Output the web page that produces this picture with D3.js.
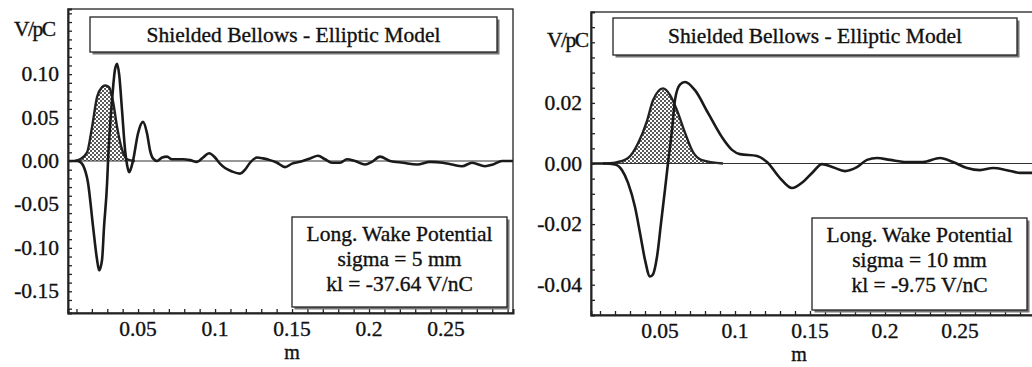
<!DOCTYPE html>
<html>
<head>
<meta charset="utf-8">
<script src="https://cdn.jsdelivr.net/npm/d3@7"></script>
<style>
  body { margin: 0; background: #fff; }
</style>
</head>
<body>
<div id="chart"></div>
<script>
// Shielded Bellows - Elliptic Model, longitudinal wake potential

const FONT = "Liberation Serif";

// Left panel (sigma = 5 mm): wake potential [m, V/pC]
const wake5 = [
  [0.0045, 0], [0.0104, 0], [0.0123, -0.001], [0.0143, -0.005], [0.0175, -0.025],
  [0.0208, -0.076], [0.0234, -0.114], [0.0247, -0.126], [0.0266, -0.114], [0.0279, -0.076],
  [0.0299, -0.025], [0.0305, 0], [0.0331, 0.07], [0.035, 0.105], [0.0364, 0.112],
  [0.0377, 0.10], [0.0396, 0.058], [0.0416, 0.012], [0.0429, -0.005], [0.0442, -0.013],
  [0.0455, -0.008], [0.0468, 0.001], [0.05, 0.032], [0.0532, 0.045], [0.0558, 0.032],
  [0.0578, 0.012], [0.0597, 0.003], [0.0623, 0], [0.0656, 0.004], [0.0688, 0.005],
  [0.072, 0.002], [0.0753, 0.002], [0.0792, 0.002], [0.0838, 0.001], [0.0883, -0.001],
  [0.0922, 0.004], [0.0961, 0.009], [0.1, 0.004], [0.1032, -0.003], [0.1065, -0.008],
  [0.111, -0.012], [0.1162, -0.0145], [0.1195, -0.01], [0.1227, -0.002], [0.1273, 0.004],
  [0.1312, 0.003], [0.1357, 0.001], [0.1403, -0.002], [0.1455, -0.007], [0.15, -0.003],
  [0.1552, -0.001], [0.1617, 0.003], [0.1669, 0.006], [0.1714, 0.002], [0.176, -0.002],
  [0.1812, -0.002], [0.1857, 0.002], [0.1909, 0.0], [0.1974, -0.004], [0.2019, -0.001],
  [0.2071, 0.005], [0.2136, 0.0], [0.2221, -0.002], [0.2312, -0.004], [0.2396, -0.001],
  [0.248, -0.002], [0.2539, -0.004], [0.2604, -0.006], [0.2669, -0.002], [0.2753, -0.006],
  [0.2805, -0.004], [0.2864, 0], [0.2935, 0]
];

// Left panel: bunch shape (shaded)
const bunch5 = [
  [0.009, 0], [0.0123, 0.002], [0.0169, 0.010], [0.0201, 0.039], [0.0234, 0.074],
  [0.0266, 0.085], [0.0286, 0.087], [0.0312, 0.085], [0.0338, 0.068], [0.0364, 0.039],
  [0.0396, 0.013], [0.0429, 0.002], [0.048, 0]
];

// Right panel (sigma = 10 mm): wake potential
const wake10 = [
  [0.004, 0], [0.0133, 0], [0.02, -0.0003], [0.0247, -0.0022], [0.0287, -0.0064],
  [0.0333, -0.0143], [0.0367, -0.023], [0.04, -0.0318], [0.0433, -0.0373], [0.0453, -0.0366],
  [0.048, -0.0308], [0.0507, -0.0196], [0.0533, -0.0087], [0.0553, 0], [0.058, 0.011],
  [0.06, 0.021], [0.0633, 0.026], [0.0667, 0.0269], [0.0733, 0.0242], [0.082, 0.0167],
  [0.0913, 0.0087], [0.098, 0.0045], [0.1033, 0.0031], [0.1147, 0.0025], [0.1213, 0.0005],
  [0.13, -0.0048], [0.138, -0.0081], [0.1453, -0.0061], [0.152, -0.0028], [0.158, -0.0002],
  [0.1653, -0.0012], [0.1733, -0.0025], [0.1813, -0.0012], [0.188, 0.0012], [0.1947, 0.0018],
  [0.2033, 0.0012], [0.2147, 0.0005], [0.2253, 0.0005], [0.2367, 0.0018], [0.2453, 0.0005],
  [0.2547, -0.0015], [0.2633, -0.0022], [0.272, -0.0015], [0.2813, -0.0022], [0.29, -0.0031],
  [0.298, -0.0031]
];

// Right panel: bunch shape (shaded)
const bunch10 = [
  [0.012, 0], [0.02, 0.0003], [0.0287, 0.0018], [0.0353, 0.0066], [0.0413, 0.014],
  [0.0453, 0.0208], [0.052, 0.0248], [0.0567, 0.0226], [0.0613, 0.0176], [0.0667, 0.0101],
  [0.072, 0.0038], [0.078, 0.0011], [0.092, 0]
];

const xTickLabels = [0.05, 0.1, 0.15, 0.2, 0.25];
const yTickLabels5 = [0.10, 0.05, 0.00, -0.05, -0.10, -0.15];
const yTickLabels10 = [0.02, 0.00, -0.02, -0.04];
const titleText = "Shielded Bellows - Elliptic Model";
const legend5 = ["Long. Wake Potential", "sigma = 5 mm", "kl = -37.64 V/nC"];
const legend10 = ["Long. Wake Potential", "sigma = 10 mm", "kl = -9.75 V/nC"];

const svg = d3.select('#chart')
    .append('svg')
    .attr('width', 1032)
    .attr('height', 367)
    .attr('font-family', FONT);

// dotted fill pattern
const defs = svg.append('defs');
const pat = defs.append('pattern')
    .attr('id', 'dots')
    .attr('patternUnits', 'userSpaceOnUse')
    .attr('width', 4)
    .attr('height', 4);
pat.append('rect').attr('width', 4).attr('height', 4).attr('fill', '#fff');
pat.append('circle').attr('cx', 1).attr('cy', 1).attr('r', 1).attr('fill', '#222');
pat.append('circle').attr('cx', 3).attr('cy', 3).attr('r', 1).attr('fill', '#222');

function addText(g, x, y, str, anchor, size) {
    return g.append('text')
        .attr('x', x)
        .attr('y', y)
        .attr('text-anchor', anchor || 'start')
        .attr('font-family', FONT)
        .attr('font-size', size || 21.5)
        .attr('fill', '#111')
        .attr('stroke', '#111')
        .attr('stroke-width', 0.35)
        .text(str);
}

function drawPanel(p) {
    const x = d3.scaleLinear().domain(p.xDomain).range([p.left, p.right]);
    const y = d3.scaleLinear().domain(p.yDomain).range([p.bottom, p.top]);
    const g = svg.append('g');

    const clipId = 'clip-' + p.id;
    defs.append('clipPath').attr('id', clipId)
        .append('rect')
        .attr('x', p.left).attr('y', p.top)
        .attr('width', p.right - p.left).attr('height', p.bottom - p.top);

    const plot = g.append('g').attr('clip-path', `url(#${clipId})`);

    // shaded bunch
    const area = d3.area()
        .x(d => x(d[0]))
        .y0(y(0))
        .y1(d => y(d[1]))
        .curve(d3.curveMonotoneX);
    plot.append('path')
        .datum(p.bunch)
        .attr('d', area)
        .attr('fill', 'url(#dots)')
        .attr('stroke', 'none');

    const line = d3.line()
        .x(d => x(d[0]))
        .y(d => y(d[1]))
        .curve(d3.curveMonotoneX);
    plot.append('path')
        .datum(p.bunch)
        .attr('d', line)
        .attr('fill', 'none')
        .attr('stroke', '#222')
        .attr('stroke-width', 2.4);

    // zero line
    plot.append('line')
        .attr('x1', p.left).attr('x2', p.right)
        .attr('y1', y(0)).attr('y2', y(0))
        .attr('stroke', '#333')
        .attr('stroke-width', 1);

    // wake
    plot.append('path')
        .datum(p.wake)
        .attr('d', line)
        .attr('fill', 'none')
        .attr('stroke', '#1a1a1a')
        .attr('stroke-width', 2.6);

    // frame
    g.append('rect')
        .attr('x', p.left).attr('y', p.top)
        .attr('width', p.right - p.left).attr('height', p.bottom - p.top)
        .attr('fill', 'none')
        .attr('stroke', '#222')
        .attr('stroke-width', 1.3);

    // bottom axis, inward ticks
    const xAxis = d3.axisBottom(x)
        .tickValues(d3.range(1, 30).map(i => i / 100))
        .tickSize(-4)
        .tickFormat('');
    g.append('g')
        .attr('transform', `translate(0,${p.bottom})`)
        .call(xAxis)
        .call(s => s.select('.domain').attr('stroke', '#222').attr('stroke-width', 2))
        .call(s => s.selectAll('.tick line').attr('stroke', '#222').attr('stroke-width', 1.3));

    xTickLabels.forEach(d => addText(g, x(d), p.bottom + 23, String(d), 'middle'));

    // left axis, inward ticks
    const yAxis = d3.axisLeft(y)
        .tickValues(p.yMinor)
        .tickSize(-4)
        .tickFormat('');
    g.append('g')
        .attr('transform', `translate(${p.left},0)`)
        .call(yAxis)
        .call(s => s.select('.domain').attr('stroke', '#222').attr('stroke-width', 2))
        .call(s => s.selectAll('.tick line').attr('stroke', '#222').attr('stroke-width', 1.3));

    p.yLabels.forEach(d => addText(g, p.left - 9, y(d) + 7, d.toFixed(2), 'end'));

    // unit labels
    addText(g, p.yUnitX, p.yUnitY, 'V/pC').attr('letter-spacing', -1.5);
    addText(g, p.mX, p.mY, 'm', 'middle', 20);

    // boxes with drop shadow
    function box(b, lines, baseline, step) {
        g.append('rect')
            .attr('x', b[0] + 2.5).attr('y', b[1] + 2.5)
            .attr('width', b[2] - b[0]).attr('height', b[3] - b[1])
            .attr('fill', '#777');
        g.append('rect')
            .attr('x', b[0]).attr('y', b[1])
            .attr('width', b[2] - b[0]).attr('height', b[3] - b[1])
            .attr('fill', '#fff')
            .attr('stroke', '#222')
            .attr('stroke-width', 1.3);
        lines.forEach((t, i) => addText(g, (b[0] + b[2]) / 2, baseline + i * step, t, 'middle'));
    }
    box(p.titleBox, [titleText], p.titleBox[1] + 25, 0);
    box(p.legendBox, p.legend, p.legendBox[1] + 24, 25);
}

drawPanel({
    id: 'a',
    left: 68, right: 513, top: 9, bottom: 313,
    xDomain: [0.0045, 0.2935],
    yDomain: [-0.175, 0.175],
    yMinor: d3.range(-17, 18).map(i => i / 100),
    yLabels: yTickLabels5,
    wake: wake5, bunch: bunch5,
    yUnitX: 14, yUnitY: 36,
    mX: 292, mY: 359,
    titleBox: [90, 17, 497, 52],
    legendBox: [292, 217, 507, 307],
    legend: legend5
});

drawPanel({
    id: 'b',
    left: 591, right: 1035, top: 12, bottom: 315,
    xDomain: [0.004, 0.3],
    yDomain: [-0.05, 0.05],
    yMinor: d3.range(-9, 10).map(i => i * 0.005),
    yLabels: yTickLabels10,
    wake: wake10, bunch: bunch10,
    yUnitX: 547, yUnitY: 47,
    mX: 799, mY: 361,
    titleBox: [613, 18, 1017, 55],
    legendBox: [812, 218, 1027, 310],
    legend: legend10
});
</script>
</body>
</html>
